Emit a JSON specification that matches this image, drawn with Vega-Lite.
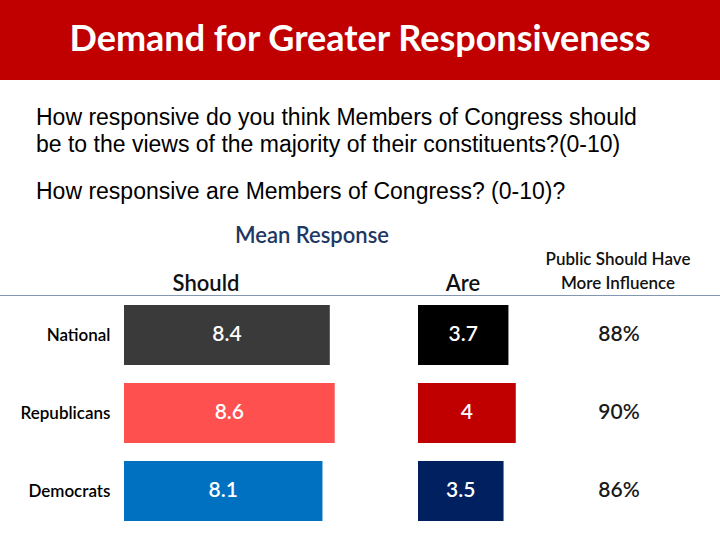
{
  "$schema": "https://vega.github.io/schema/vega-lite/v6.json",
  "padding": 0,
  "background": "white",
  "config": {"view": {"stroke": null}, "concat": {"spacing": 0}, "font": "Lato"},
  "datasets": {
    "rows": [
      {"group": "National", "should": 8.4, "are": 3.7, "pct": "88%"},
      {"group": "Republicans", "should": 8.6, "are": 4, "pct": "90%"},
      {"group": "Democrats", "should": 8.1, "are": 3.5, "pct": "86%"}
    ]
  },
  "spacing": 0,
  "vconcat": [
    {
      "width": 720,
      "height": 80,
      "view": {"fill": "#C00000", "stroke": null},
      "data": {"values": [{"t": "Demand for Greater Responsiveness"}]},
      "mark": {"type": "text", "font": "Lato", "fontWeight": "bold", "fontSize": 36, "color": "white"},
      "encoding": {"text": {"field": "t"}},
      "title": {
        "text": ["How responsive do you think Members of Congress should", "be to the views of the majority of their constituents?(0-10)"],
        "subtitle": "How responsive are Members of Congress? (0-10)?",
        "orient": "bottom",
        "anchor": "start",
        "dx": 36,
        "offset": 27,
        "font": "Liberation Sans",
        "fontSize": 23,
        "fontWeight": "normal",
        "color": "#000000",
        "lineHeight": 27,
        "subtitleFont": "Liberation Sans",
        "subtitleFontSize": 23,
        "subtitleColor": "#000000",
        "subtitlePadding": 24
      }
    },
    {
      "width": 720,
      "height": 18,
      "data": {"values": []},
      "mark": {"type": "text"},
      "encoding": {"text": {"field": "t", "type": "nominal"}}
    },
    {
      "width": 624,
      "height": 28,
      "data": {"values": [{"t": "Mean Response"}]},
      "mark": {"type": "text", "font": "Lato", "fontSize": 22, "fontWeight": 600, "color": "#1F3864"},
      "encoding": {"text": {"field": "t"}}
    },
    {
      "hconcat": [
        {
          "width": 412, "height": 33,
          "data": {"values": [{"t": "Should"}]},
          "mark": {"type": "text", "font": "Lato", "fontSize": 22, "fontWeight": 600, "baseline": "top", "color": "#111111"},
          "encoding": {"text": {"field": "t"}}
        },
        {
          "width": 102, "height": 33,
          "data": {"values": [{"t": "Are"}]},
          "mark": {"type": "text", "font": "Lato", "fontSize": 22, "fontWeight": 600, "baseline": "top", "color": "#111111"},
          "encoding": {"text": {"field": "t"}}
        },
        {
          "width": 208, "height": 5,
          "data": {"values": [{"t": "Public Should Have\nMore Influence"}]},
          "mark": {"type": "text", "font": "Lato", "fontSize": 17, "fontWeight": 600, "baseline": "middle", "lineBreak": "\n", "lineHeight": 24, "color": "#111111"},
          "encoding": {"text": {"field": "t"}}
        }
      ]
    },
    {
      "width": 720,
      "height": 1,
      "view": {"fill": "#8497B0", "stroke": null},
      "data": {"values": []},
      "mark": {"type": "text"},
      "encoding": {"text": {"field": "t", "type": "nominal"}}
    },
    {
      "hconcat": [
        {
          "width": 100,
          "height": 234,
          "data": {"name": "rows"},
          "mark": {"type": "text", "text": ""},
          "encoding": {
            "y": {"field": "group", "type": "nominal", "sort": ["National", "Republicans", "Democrats"],
              "scale": {"paddingInner": 0.23, "paddingOuter": 0.115},
              "axis": {"orient": "right", "title": null, "domain": false, "ticks": false, "labelAlign": "right", "labelPadding": 10, "minExtent": 24, "maxExtent": 24, "labelFont": "Lato", "labelFontSize": 17, "labelFontWeight": 600, "labelColor": "#000000"}}
          }
        },
        {
          "width": 294,
          "height": 234,
          "data": {"name": "rows"},
          "layer": [
            {
              "mark": {"type": "bar"},
              "encoding": {
                "y": {"field": "group", "type": "nominal", "sort": ["National", "Republicans", "Democrats"],
                  "scale": {"paddingInner": 0.23, "paddingOuter": 0.115}, "axis": null},
                "x": {"field": "should", "type": "quantitative", "scale": {"domain": [0, 12]}, "axis": null},
                "color": {"field": "group", "type": "nominal", "scale": {"domain": ["National", "Republicans", "Democrats"], "range": ["#3A3A3A", "#FF5050", "#0070C0"]}, "legend": null}
              }
            },
            {
              "mark": {"type": "text", "font": "Lato", "fontSize": 21, "fontWeight": 600, "color": "white"},
              "encoding": {
                "y": {"field": "group", "type": "nominal", "sort": ["National", "Republicans", "Democrats"]},
                "x": {"field": "should", "type": "quantitative", "scale": {"domain": [0, 24]}, "axis": null},
                "text": {"field": "should", "type": "quantitative", "format": ".1f"}
              }
            }
          ],
          "resolve": {"scale": {"x": "independent"}}
        },
        {
          "width": 110,
          "height": 234,
          "data": {"name": "rows"},
          "layer": [
            {
              "mark": {"type": "bar"},
              "encoding": {
                "y": {"field": "group", "type": "nominal", "sort": ["National", "Republicans", "Democrats"],
                  "scale": {"paddingInner": 0.23, "paddingOuter": 0.115}, "axis": null},
                "x": {"field": "are", "type": "quantitative", "scale": {"domain": [0, 4.5]}, "axis": null},
                "color": {"field": "group", "type": "nominal", "scale": {"domain": ["National", "Republicans", "Democrats"], "range": ["#000000", "#C00000", "#002060"]}, "legend": null}
              }
            },
            {
              "mark": {"type": "text", "font": "Lato", "fontSize": 21, "fontWeight": 600, "color": "white"},
              "encoding": {
                "y": {"field": "group", "type": "nominal", "sort": ["National", "Republicans", "Democrats"]},
                "x": {"field": "are", "type": "quantitative", "scale": {"domain": [0, 9]}, "axis": null},
                "text": {"field": "are", "type": "quantitative"}
              }
            }
          ],
          "resolve": {"scale": {"x": "independent"}}
        },
        {
          "width": 182,
          "height": 234,
          "data": {"name": "rows"},
          "mark": {"type": "text", "font": "Lato", "fontSize": 21, "fontWeight": 600, "color": "#1a1a1a"},
          "encoding": {
            "y": {"field": "group", "type": "nominal", "sort": ["National", "Republicans", "Democrats"],
              "scale": {"paddingInner": 0.23, "paddingOuter": 0.115}, "axis": null},
            "text": {"field": "pct"}
          }
        }
      ],
      "resolve": {"scale": {"color": "independent", "y": "independent"}}
    }
  ]
}
